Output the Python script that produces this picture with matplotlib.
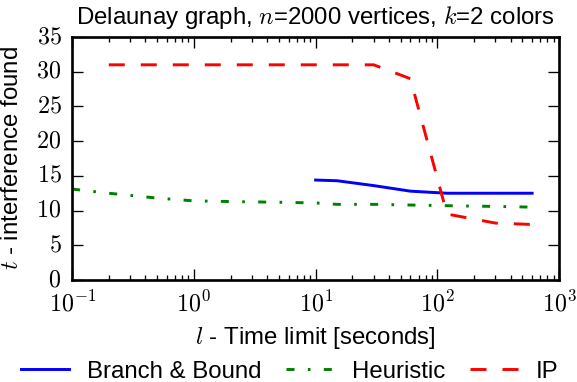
import matplotlib
matplotlib.use("Agg")
import matplotlib.pyplot as plt
from matplotlib.ticker import FuncFormatter, FixedLocator
import numpy as np

plt.style.use("classic")
plt.rcParams["font.family"] = ["Liberation Sans", "DejaVu Sans"]
plt.rcParams["mathtext.fontset"] = "cm"
plt.rcParams["font.size"] = 9
plt.rcParams["savefig.facecolor"] = "white"
plt.rcParams["figure.facecolor"] = "white"

# Time limits (seconds) and interference found by each method
bb_time = [10, 15, 30, 60, 120, 300, 600]
bb_value = [14.4, 14.3, 13.6, 12.8, 12.5, 12.5, 12.5]

heur_time = [0.1, 0.2, 0.5, 1, 2, 5, 10, 15, 30, 60, 120, 300, 600]
heur_value = [13.1, 12.5, 11.8, 11.4, 11.3, 11.2, 11.1, 10.9, 10.9, 10.8, 10.7, 10.6, 10.5]

ip_time = [0.2, 30, 60, 120, 300, 600]
ip_value = [31, 31, 29, 9.5, 8.2, 8.0]

DPI = 192
fig = plt.figure(figsize=(577 / DPI, 382 / DPI), dpi=DPI)
ax = fig.add_axes([0.125, 0.267, 0.844, 0.636])

ax.plot(bb_time, bb_value, color="b", lw=1.1, label="Branch & Bound")
ax.plot(heur_time, heur_value, color="g", lw=1.1, linestyle="-.", label="Heuristic")
ax.plot(ip_time, ip_value, color="r", lw=1.1, linestyle="--", label="IP")

ax.set_xscale("log")
ax.set_xlim(0.1, 1000)
ax.set_ylim(0, 35)
ax.xaxis.set_major_formatter(FuncFormatter(lambda v, p: r"$10^{%d}$" % round(np.log10(v))))
ax.yaxis.set_major_locator(FixedLocator([0, 5, 10, 15, 20, 25, 30, 35]))
ax.yaxis.set_major_formatter(FuncFormatter(lambda v, p: r"$%d$" % v))
ax.tick_params(labelsize=9)

ax.set_title(r"Delaunay graph, $n$=2000 vertices, $k$=2 colors", fontsize=9)
ax.set_xlabel(r"$l$ - Time limit [seconds]", fontsize=9, labelpad=3.5)
ax.set_ylabel(r"$t$ - interference found", fontsize=9)

fig.legend(loc="center", bbox_to_anchor=(0.502, 0.027), ncol=3, frameon=False,
           fontsize=9, handlelength=2.0, handletextpad=0.75, columnspacing=1.04,
           numpoints=1)

fig.savefig("out.png", dpi=DPI)
